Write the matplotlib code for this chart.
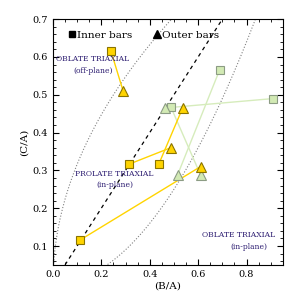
import numpy as np
import matplotlib.pyplot as plt
from matplotlib.lines import Line2D

# inner bar (square) -> outer bar (triangle) pairs
inner_yellow_x = [0.24, 0.11, 0.313, 0.437]
inner_yellow_y = [0.615, 0.115, 0.316, 0.316]
outer_yellow_x = [0.29, 0.61, 0.487, 0.536]
outer_yellow_y = [0.51, 0.31, 0.36, 0.465]

inner_green_x = [0.487, 0.689, 0.911]
inner_green_y = [0.468, 0.566, 0.490]
outer_green_x = [0.61, 0.515, 0.462]
outer_green_y = [0.288, 0.288, 0.465]

plt.rcParams['font.family'] = 'DejaVu Serif'

fig = plt.figure(figsize=(2.99, 2.99), dpi=100)
ax = fig.add_axes([0.177, 0.114, 0.769, 0.822])

b = np.linspace(0, 1, 300)
ax.plot(b, b, color='black', ls=(0, (3, 3)), lw=0.9)
ax.plot(b, np.sqrt(b), color='gray', ls=':', lw=0.8)
ax.plot(b, b**2, color='gray', ls=':', lw=0.8)

yel = '#ffd400'
yel_edge = '#8a7400'
grn = '#d2eab4'
grn_edge = '#8c9c84'

for i in range(len(inner_green_x)):
    ax.plot([inner_green_x[i], outer_green_x[i]], [inner_green_y[i], outer_green_y[i]],
            color='#d6ecbc', lw=1.0, zorder=2)
for i in range(len(inner_yellow_x)):
    ax.plot([inner_yellow_x[i], outer_yellow_x[i]], [inner_yellow_y[i], outer_yellow_y[i]],
            color=yel, lw=1.0, zorder=3)

ax.plot(inner_green_x, inner_green_y, 's', ms=5.8, mfc=grn, mec=grn_edge, mew=0.8, zorder=4)
ax.plot(outer_green_x, outer_green_y, '^', ms=7, mfc=grn, mec=grn_edge, mew=0.8, zorder=4)
ax.plot(inner_yellow_x, inner_yellow_y, 's', ms=5.8, mfc=yel, mec=yel_edge, mew=0.8, zorder=5)
ax.plot(outer_yellow_x, outer_yellow_y, '^', ms=7, mfc=yel, mec=yel_edge, mew=0.8, zorder=5)

handles = [Line2D([], [], marker='s', color='black', ls='none', ms=5),
           Line2D([], [], marker='^', color='black', ls='none', ms=5.5)]
ax.legend(handles, ['Inner bars', 'Outer bars'], loc='upper left', ncol=2,
          frameon=False, fontsize=7.5, handlelength=0.8, handletextpad=0.15,
          columnspacing=1.9, borderaxespad=0.0, bbox_to_anchor=(0.045, 0.97))

txt = '#2b1b70'
ax.text(0.165, 0.578, 'OBLATE TRIAXIAL\n(off-plane)', color=txt, fontsize=5.5,
        ha='center', va='center', linespacing=1.6)
ax.text(0.255, 0.276, 'PROLATE TRIAXIAL\n(in-plane)', color=txt, fontsize=5.5,
        ha='center', va='center', linespacing=1.6)
ax.text(0.767, 0.129, 'OBLATE TRIAXIAL', color=txt, fontsize=5.5,
        ha='center', va='center')
ax.text(0.808, 0.097, '(in-plane)', color=txt, fontsize=5.5,
        ha='center', va='center')

ax.set_xlim(0, 0.95)
ax.set_ylim(0.05, 0.7)
ax.set_xticks([0.0, 0.2, 0.4, 0.6, 0.8])
ax.set_yticks([0.1, 0.2, 0.3, 0.4, 0.5, 0.6, 0.7])
ax.set_xticks(np.arange(0, 0.951, 0.05), minor=True)
ax.set_yticks(np.arange(0.06, 0.701, 0.02), minor=True)
ax.tick_params(which='both', direction='in', top=True, right=True, labelsize=7)
ax.tick_params(which='major', length=4)
ax.tick_params(which='minor', length=2)
ax.set_xlabel('(B/A)', fontsize=7.5, labelpad=2)
ax.set_ylabel('(C/A)', fontsize=7.5, labelpad=3)

plt.savefig('out.png', dpi=100)
